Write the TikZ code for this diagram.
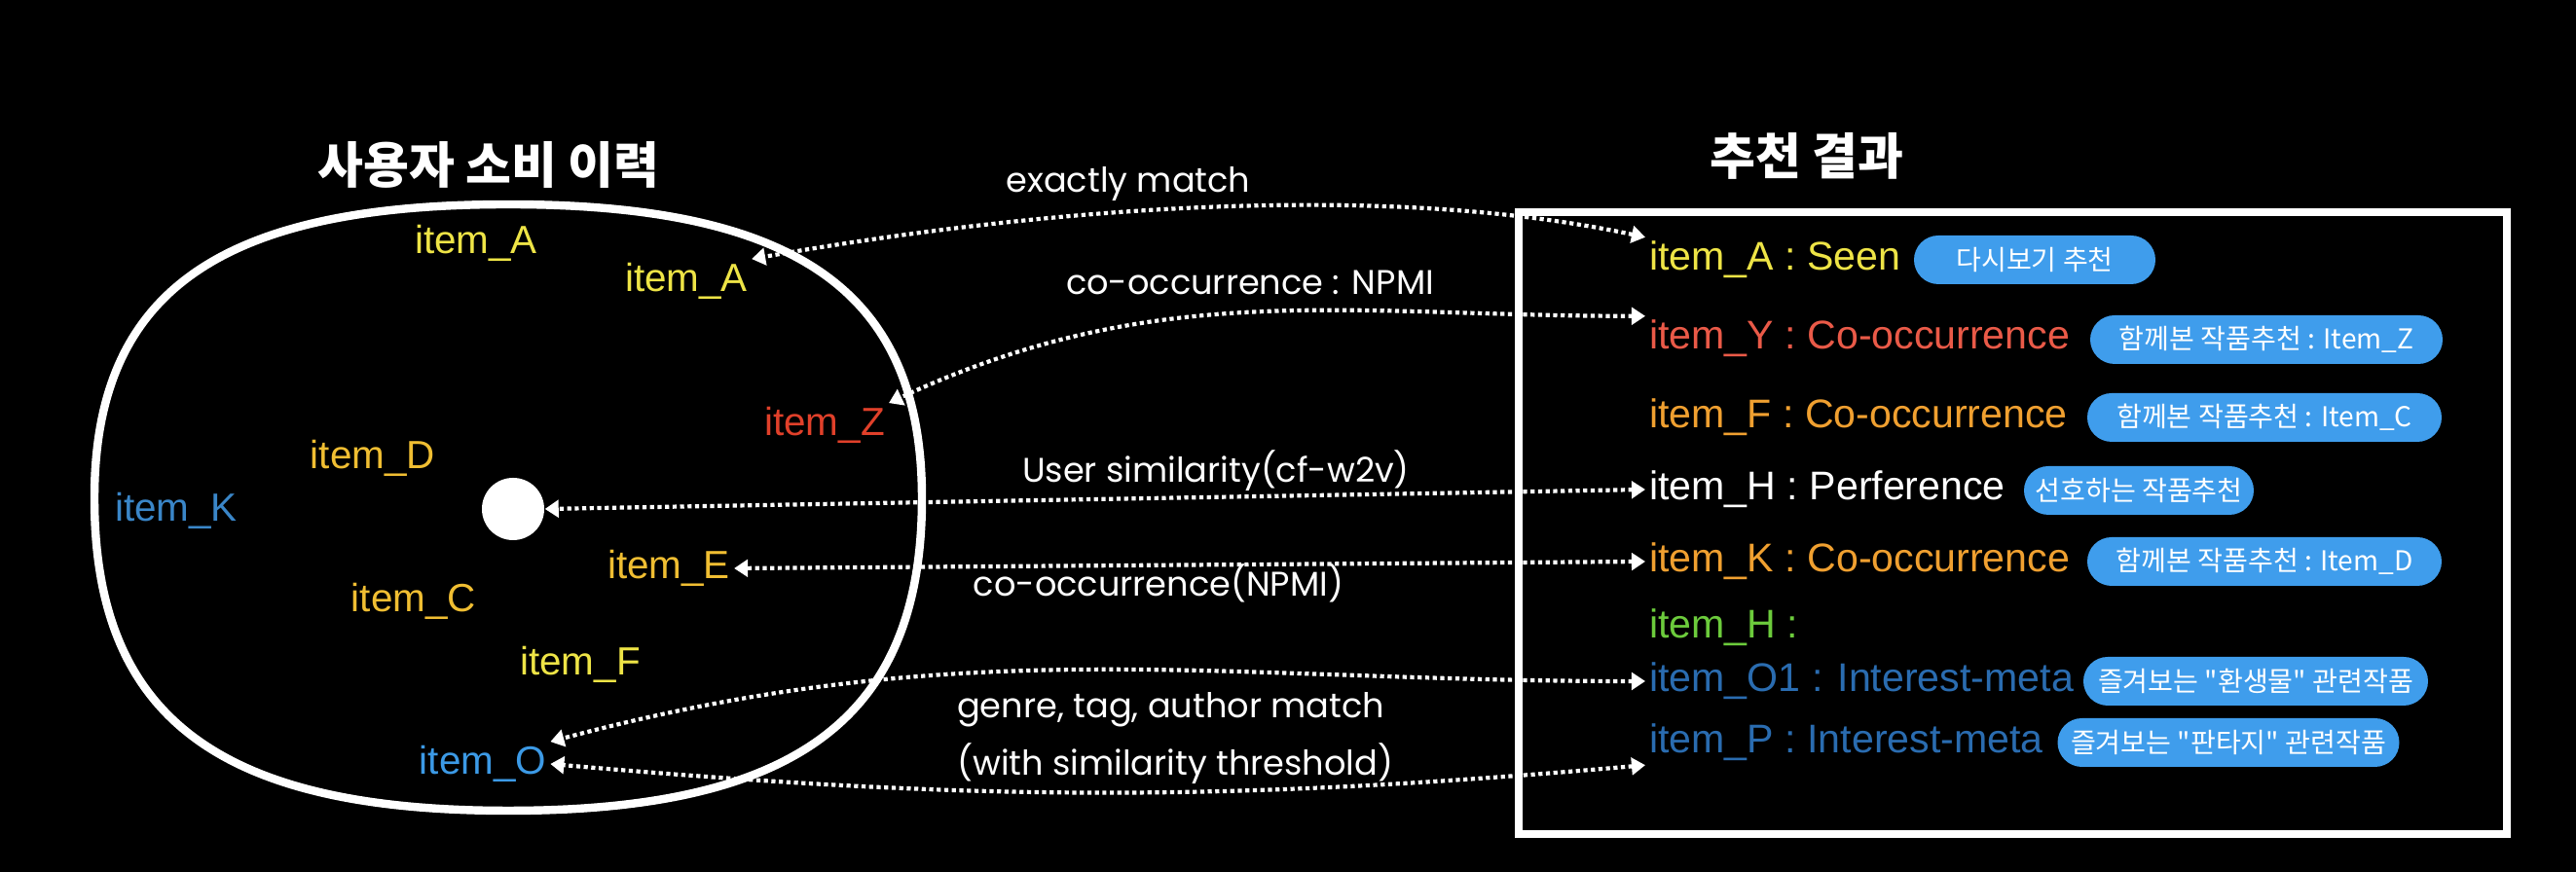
\documentclass[tikz,border=0pt]{standalone}
\usepackage{fontspec}
\setmainfont{Liberation Sans}
\newfontfamily\kofont{Noto Sans CJK KR}
\newfontfamily\labelfont{Poppins}
\usetikzlibrary{arrows.meta}
\definecolor{yellowA}{HTML}{EEE446}
\definecolor{goldD}{HTML}{F0BE32}
\definecolor{redZ}{HTML}{E0402A}
\definecolor{blueK}{HTML}{3A86C8}
\definecolor{blueO}{HTML}{3C9AE6}
\definecolor{salmonY}{HTML}{EA5A48}
\definecolor{orangeF}{HTML}{F0A030}
\definecolor{greenH}{HTML}{6CCB3C}
\definecolor{darkblue}{HTML}{2A6CB0}
\definecolor{badgeblue}{HTML}{3F9DEC}
\begin{document}
\begin{tikzpicture}[
	itemtxt/.style={anchor=center, inner sep=1pt, font=\fontsize{11.5}{13}\selectfont},
	restxt/.style={anchor=west, inner sep=1pt, font=\fontsize{11.7}{14}\selectfont},
	badge/.style={shape=rectangle, rounded corners=0.25cm, fill=badgeblue, text=white, minimum height=0.5cm, inner sep=0pt, font=\kofont\fontsize{8}{9}\selectfont},
	linklabel/.style={text=white, inner sep=1pt, font=\labelfont\fontsize{10}{12}\selectfont},
	link/.style={white, densely dotted, line width=1.2pt, {Triangle[length=4pt, width=5pt]}-{Triangle[length=4pt, width=5pt]}}
]
	% Background and frames:
	\fill[black] (0, 0) rectangle (26.46, 8.96);
	\useasboundingbox (0, 0) rectangle (26.46, 8.96);
	\draw[white, line width=2.4pt] (5.22, 6.86) .. controls (2.25, 6.86) and (0.97, 5.96) .. (0.97, 3.84) .. controls (0.97, 1.59) and (2.25, 0.63) .. (5.22, 0.63) .. controls (8.19, 0.63) and (9.47, 1.59) .. (9.47, 3.84) .. controls (9.47, 5.96) and (8.19, 6.86) .. cycle;
	\draw[white, line width=2.3pt] (15.60, 6.78) rectangle (25.75, 0.39);
	\node[text=white, font=\kofont\bfseries\fontsize{14.5}{16}\selectfont] (histtitle) at (5.02, 7.27){사용자 소비 이력};
	\node[text=white, font=\kofont\bfseries\fontsize{14.5}{16}\selectfont] (rectitle) at (18.56, 7.36){추천 결과};
	% Consumed items:
	\node[itemtxt, text=yellowA] (iA1) at (4.89, 6.46){item\_A};
	\node[itemtxt, text=yellowA] (iA2) at (7.05, 6.07){item\_A};
	\node[itemtxt, text=redZ] (iZ) at (8.47, 4.59){item\_Z};
	\node[itemtxt, text=goldD] (iD) at (3.83, 4.25){item\_D};
	\node[itemtxt, text=blueK] (iK) at (1.81, 3.71){item\_K};
	\node[shape=circle, fill=white, minimum size=0.64cm, inner sep=0pt] (dot) at (5.27, 3.73){};
	\node[itemtxt, text=goldD] (iE) at (6.87, 3.12){item\_E};
	\node[itemtxt, text=goldD] (iC) at (4.25, 2.78){item\_C};
	\node[itemtxt, text=yellowA] (iF) at (5.96, 2.13){item\_F};
	\node[itemtxt, text=blueO] (iO) at (4.96, 1.11){item\_O};
	% Recommendations:
	\node[restxt, text=yellowA] (rA) at (16.90, 6.29){item\_A : Seen};
	\node[restxt, text=salmonY] (rY) at (16.90, 5.48){item\_Y : Co-occurrence};
	\node[restxt, text=orangeF] (rF) at (16.90, 4.67){item\_F : Co-occurrence};
	\node[restxt, text=white] (rH) at (16.90, 3.93){item\_H : Perference};
	\node[restxt, text=orangeF] (rK) at (16.90, 3.19){item\_K : Co-occurrence};
	\node[restxt, text=greenH] (rH2) at (16.90, 2.51){item\_H :};
	\node[restxt, text=darkblue] (rO1) at (16.90, 1.96){item\_O1 : Interest-meta};
	\node[restxt, text=darkblue] (rP) at (16.90, 1.33){item\_P : Interest-meta};
	\node[badge, minimum width=2.48cm] (bA) at (20.90, 6.29){다시보기 추천};
	\node[badge, minimum width=3.62cm] (bY) at (23.28, 5.47){함께본 작품추천 : Item\_Z};
	\node[badge, minimum width=3.64cm] (bF) at (23.26, 4.67){함께본 작품추천 : Item\_C};
	\node[badge, minimum width=2.36cm] (bH) at (21.97, 3.92){선호하는 작품추천};
	\node[badge, minimum width=3.64cm] (bK) at (23.26, 3.19){함께본 작품추천 : Item\_D};
	\node[badge, minimum width=3.54cm] (bO1) at (23.17, 1.96){즐겨보는 "환생물" 관련작품};
	\node[badge, minimum width=3.51cm] (bP) at (22.89, 1.33){즐겨보는 "판타지" 관련작품};
	% Links and their labels:
	\draw[link] (rA.north west) to[out=168, in=10, looseness=0.8] (iA2.north east);
	\draw[link] (rY.north west) to[out=180, in=25] (iZ.north east);
	\draw[link] (rH.west) -- (dot.east);
	\draw[link] (rK.west) -- (iE.east);
	\draw[link] (rO1.west) to[out=180, in=15] (iO.north east);
	\draw[link] (rP.south west) to[out=185, in=-5] (iO.east);
	\node[linklabel] (lexact) at (11.59, 7.07){exactly match};
	\node[linklabel] (lnpmi) at (12.84, 6.06){co-occurrence : NPMI};
	\node[linklabel] (luser) at (12.49, 4.12){User similarity(cf-w2v)};
	\node[linklabel] (lnpmi2) at (11.90, 2.97){co-occurrence(NPMI)};
	\node[linklabel, anchor=west] (lgenre) at (9.79, 1.67){genre, tag, author match};
	\node[linklabel, anchor=west] (lthresh) at (9.79, 1.11){(with similarity threshold)};
\end{tikzpicture}
\end{document}
